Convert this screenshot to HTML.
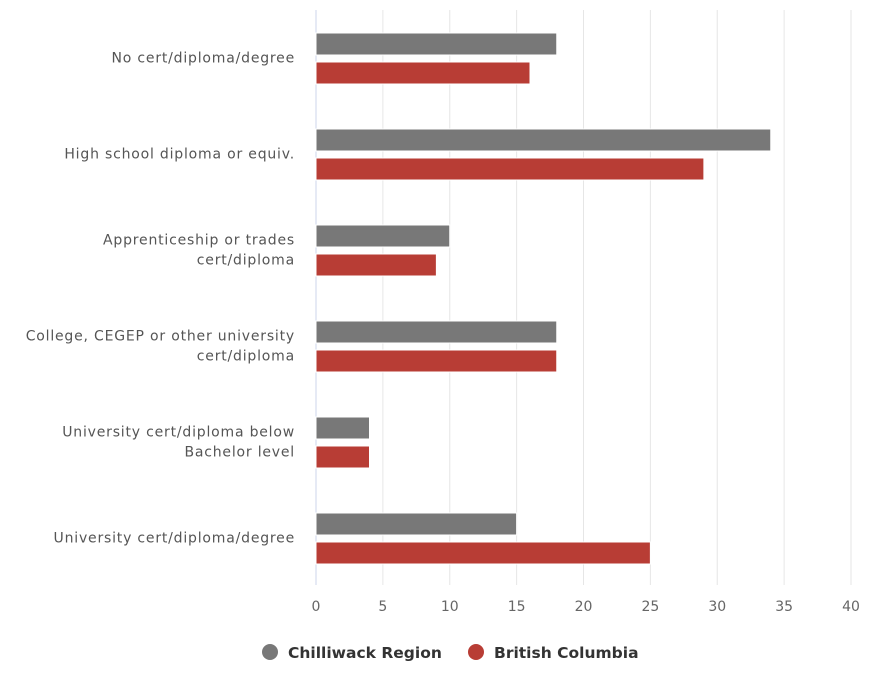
<!DOCTYPE html>
<html><head><meta charset="utf-8"><style>
body{margin:0;background:#fff;width:878px;height:688px;overflow:hidden;font-family:"DejaVu Sans","Liberation Sans",sans-serif}
</style></head><body>
<svg id="chart" width="878" height="688" xmlns="http://www.w3.org/2000/svg"></svg>
<script>
const categories = [["No cert/diploma/degree"],["High school diploma or equiv."],["Apprenticeship or trades","cert/diploma"],["College, CEGEP or other university","cert/diploma"],["University cert/diploma below","Bachelor level"],["University cert/diploma/degree"]];
const chilliwack = [18,34,10,18,4,15];
const bc = [16,29,9,18,4,25];
const ticks = [0,5,10,15,20,25,30,35,40];
const seriesNames = ["Chilliwack Region","British Columbia"];
const colors = ["#787878","#b83d35"];

const svg = document.getElementById('chart');
const NS = "http://www.w3.org/2000/svg";
const x0 = 316, x1 = 851, plotTop = 10, plotBottom = 585;
const xs = v => x0 + (v - ticks[0]) / (ticks[ticks.length-1] - ticks[0]) * (x1 - x0);
const bandStart = 33, band = 96, barH = 22, gap = 7;
function mk(tag, attrs, parent){const e=document.createElementNS(NS,tag);for(const k in attrs)e.setAttribute(k,attrs[k]);(parent||svg).appendChild(e);return e;}

ticks.forEach(t=>{
  const g = mk('line',{x1:xs(t),x2:xs(t),y1:plotTop,y2:plotBottom,stroke:t===0?'#ccd6eb':'#e6e6e6','stroke-width':1});
  
  
  const l = mk('text',{x:xs(t),y:611,'text-anchor':'middle','font-size':14,fill:'#666'});
  l.textContent = t;
  
  
});

categories.forEach((c,i)=>{
  const y = bandStart + i*band;
  [chilliwack, bc].forEach((s,j)=>{
    const r = mk('rect',{x:xs(0),y:y+j*(barH+gap),width:xs(s[i])-xs(0),height:barH,fill:colors[j],stroke:'#fff','stroke-width':1});
    
    
  });
  const mid = y + barH + gap/2;
  const t = mk('text',{x:295,'text-anchor':'end','font-size':14,fill:'#555','letter-spacing':'0.8px'});
  
  
  c.forEach((line,k)=>{
    const ts = mk('tspan',{x:295,y:mid+4+(k-(c.length-1)/2)*20},t);
    ts.textContent = line;
  });
});

const legendX = [262, 468];
seriesNames.forEach((n,j)=>{
  const c = mk('circle',{cx:legendX[j]+8,cy:652,r:8,fill:colors[j]});
  
  
  const t = mk('text',{x:legendX[j]+26,y:658,'font-size':15.5,'font-weight':'bold',fill:'#333'});
  t.textContent = n;
  
  
});
</script>
</body></html>
